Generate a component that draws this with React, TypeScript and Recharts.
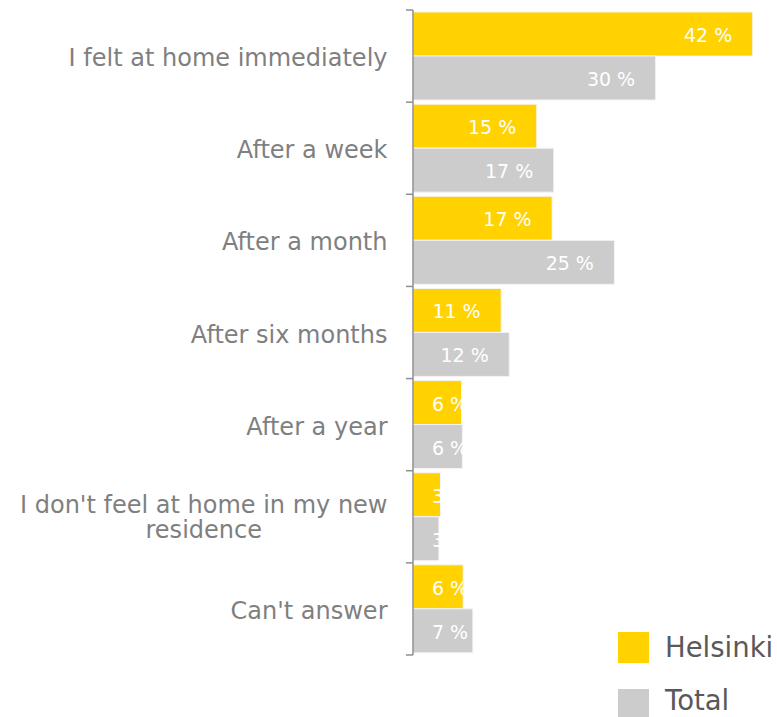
import React from "react";
import { BarChart, Bar, XAxis, YAxis, LabelList } from "recharts";

const categories = [
  "I felt at home immediately",
  "After a week",
  "After a month",
  "After six months",
  "After a year",
  "I don't feel at home in my new residence",
  "Can't answer",
];
const helsinki = [42.0, 15.3, 17.2, 10.9, 6.0, 3.4, 6.2];
const total = [30.0, 17.4, 24.9, 11.9, 6.1, 3.2, 7.4];
const seriesNames = ["Helsinki", "Total"];
const seriesColors = ["#FFD200", "#CCCCCC"];
const xDomain = [0, 45];

const data = categories.map((name, i) => ({
  name,
  helsinki: helsinki[i],
  total: total[i],
}));

const W = 777;
const H = 717;
const MARGIN = { top: 10, right: 0, bottom: 62, left: 0 };
const AXIS_W = 413;
const PLOT_H = H - MARGIN.top - MARGIN.bottom;
const FONT = "'DejaVu Sans', Verdana, sans-serif";

let ctx: CanvasRenderingContext2D | null = null;
function measure(text: string, size: number): number {
  if (!ctx) ctx = document.createElement("canvas").getContext("2d");
  if (!ctx) return text.length * size * 0.6;
  ctx.font = `${size}px 'DejaVu Sans'`;
  return ctx.measureText(text).width;
}

function wrap(text: string, size: number, maxW: number): string[] {
  const words = text.split(" ");
  const lines: string[] = [];
  let cur = "";
  for (const w of words) {
    const t = cur ? cur + " " + w : w;
    if (cur && measure(t, size) > maxW) {
      lines.push(cur);
      cur = w;
    } else cur = t;
  }
  if (cur) lines.push(cur);
  return lines;
}

const CatTick = (props: any) => {
  const { y, payload, index } = props;
  const band = PLOT_H / categories.length;
  const ax = AXIS_W;
  const right = ax - 25.5;
  const size = 24;
  const lines = wrap(String(payload.value), size, 385);
  const maxW = Math.max(...lines.map((l) => measure(l, size)));
  const tickColor = "#8f8f8f";
  return (
    <g>
      <line x1={ax - 7} x2={ax} y1={y - band / 2} y2={y - band / 2} stroke={tickColor} strokeWidth={1.5} />
      {index === categories.length - 1 && (
        <line x1={ax - 7} x2={ax} y1={y + band / 2} y2={y + band / 2} stroke={tickColor} strokeWidth={1.5} />
      )}
      {lines.length === 1 ? (
        <text x={right} y={y + 10} textAnchor="end" fontSize={size} fontFamily={FONT} fill="#7f7f7f">
          {lines[0]}
        </text>
      ) : (
        lines.map((l, i) => (
          <text
            key={i}
            x={right - maxW / 2}
            y={y - 4 + i * 25.5}
            textAnchor="middle"
            fontSize={size}
            fontFamily={FONT}
            fill="#7f7f7f"
          >
            {l}
          </text>
        ))
      )}
    </g>
  );
};

const BarLabel = (props: any) => {
  const { x, y, width, height, value } = props;
  const size = 19;
  const txt = `${Math.round(Number(value))} %`;
  const tw = measure(txt, size);
  const end = Math.max(x + width - 20.5, x + 19 + tw);
  return (
    <text
      x={end}
      y={y + height / 2 + 8}
      textAnchor="end"
      fontSize={size}
      fontFamily={FONT}
      fill="#ffffff"
    >
      {txt}
    </text>
  );
};

export default function App() {
  return (
    <div style={{ position: "absolute", left: 0, top: 0, width: W, height: H, background: "#fff", overflow: "hidden" }}>
      <BarChart
        width={W}
        height={H}
        data={data}
        layout="vertical"
        margin={MARGIN}
        barCategoryGap={2}
        barGap={0}
      >
        <XAxis type="number" domain={xDomain} hide />
        <YAxis
          type="category"
          dataKey="name"
          width={AXIS_W}
          tickLine={false}
          axisLine={{ stroke: "#8f8f8f", strokeWidth: 1.5 }}
          tick={<CatTick />}
          interval={0}
        />
        <Bar dataKey="helsinki" fill={seriesColors[0]} stroke="#f4f4f4" strokeWidth={1} isAnimationActive={false}>
          <LabelList dataKey="helsinki" content={<BarLabel />} />
        </Bar>
        <Bar dataKey="total" fill={seriesColors[1]} stroke="#f4f4f4" strokeWidth={1} isAnimationActive={false}>
          <LabelList dataKey="total" content={<BarLabel />} />
        </Bar>
      </BarChart>
      {seriesNames.map((n, i) => (
        <div
          key={n}
          style={{
            position: "absolute",
            left: 618,
            top: 632 + i * 56.5,
            display: "flex",
            alignItems: "center",
            height: 31,
          }}
        >
          <div style={{ width: 31, height: 31, background: seriesColors[i] }} />
          <span
            style={{
              marginLeft: 16,
              fontFamily: FONT,
              fontSize: 27.5,
              color: "#595959",
              lineHeight: "21px",
              whiteSpace: "nowrap",
              position: "relative",
              top: i === 1 ? -4 : 0,
            }}
          >
            {n}
          </span>
        </div>
      ))}
    </div>
  );
}
